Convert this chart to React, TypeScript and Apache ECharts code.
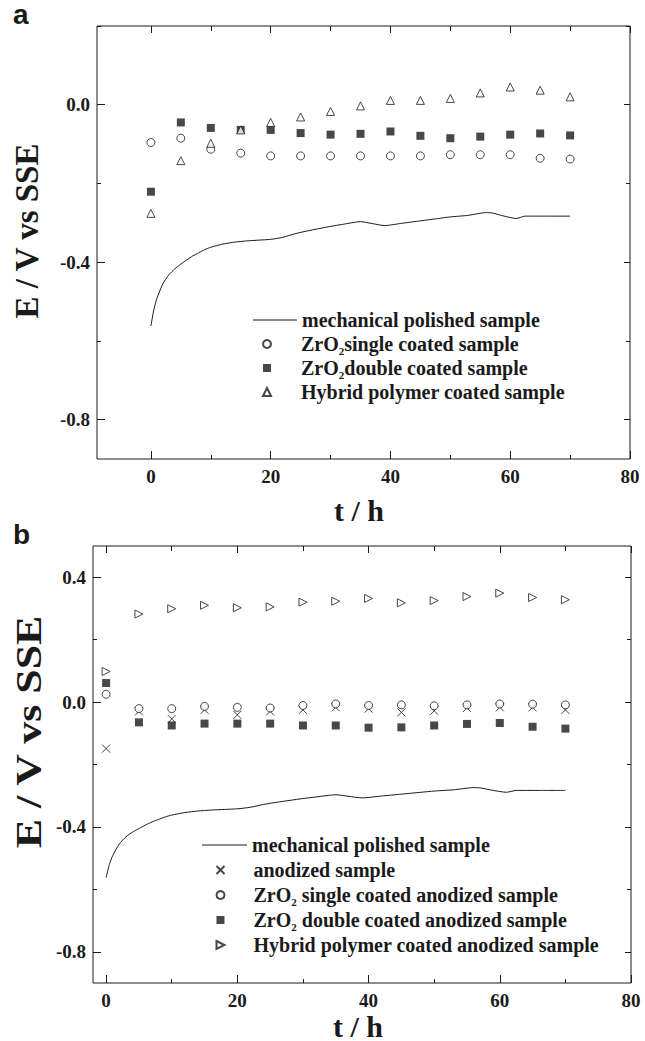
import React, { useEffect, useRef } from "react";
import * as echarts from "echarts";

// ---------- data ----------
const T_POINTS = [0, 5, 10, 15, 20, 25, 30, 35, 40, 45, 50, 55, 60, 65, 70];

// mechanical polished sample (continuous record)
const MECH_T = [0, 0.5, 1, 2, 3, 4, 5, 6, 7, 8, 9, 10, 12, 14, 16, 18, 20, 22, 24, 26, 28, 30, 32, 35, 37, 39, 42, 45, 48, 50, 53, 56, 57, 59, 61, 62.5, 66, 70];
const MECH_E = [-0.562, -0.52, -0.492, -0.455, -0.432, -0.417, -0.405, -0.394, -0.384, -0.376, -0.368, -0.362, -0.354, -0.349, -0.346, -0.344, -0.342, -0.337, -0.328, -0.321, -0.315, -0.309, -0.304, -0.297, -0.302, -0.307, -0.301, -0.295, -0.289, -0.285, -0.281, -0.274, -0.275, -0.283, -0.289, -0.283, -0.283, -0.283];

// panel a
const A_SINGLE = [-0.096, -0.085, -0.113, -0.123, -0.13, -0.13, -0.13, -0.13, -0.13, -0.13, -0.127, -0.127, -0.127, -0.136, -0.138];
const A_DOUBLE = [-0.221, -0.045, -0.059, -0.064, -0.064, -0.072, -0.076, -0.074, -0.068, -0.079, -0.085, -0.081, -0.076, -0.073, -0.078];
const A_HYBRID = [-0.276, -0.142, -0.098, -0.064, -0.045, -0.031, -0.017, -0.003, 0.011, 0.011, 0.016, 0.03, 0.045, 0.037, 0.02];

// panel b
const B_ANODIZED = [-0.149, -0.03, -0.054, -0.025, -0.041, -0.03, -0.025, -0.017, -0.021, -0.033, -0.028, -0.019, -0.017, -0.017, -0.025];
const B_SINGLE = [0.025, -0.021, -0.021, -0.014, -0.017, -0.019, -0.011, -0.006, -0.011, -0.009, -0.012, -0.009, -0.006, -0.007, -0.009];
const B_DOUBLE = [0.061, -0.065, -0.075, -0.069, -0.069, -0.069, -0.075, -0.075, -0.082, -0.081, -0.075, -0.07, -0.067, -0.079, -0.085];
const B_HYBRID = [0.098, 0.282, 0.299, 0.31, 0.302, 0.305, 0.32, 0.323, 0.332, 0.318, 0.325, 0.338, 0.349, 0.335, 0.328];

// ticks
const X_MAJOR = [0, 20, 40, 60, 80];
const X_MINOR = [10, 30, 50, 70];
const YA_MAJOR = [-0.8, -0.4, 0];
const YA_MINOR = [-0.6, -0.2, 0.2];
const YB_MAJOR = [-0.8, -0.4, 0, 0.4];
const YB_MINOR = [-0.6, -0.2, 0.2];

// names
const MECH = "mechanical polished sample";
const MECH_B = "mechanical polished sample ";
const A_NAMES = ["ZrO2single coated sample", "ZrO2double coated sample", "Hybrid polymer coated sample"];
const B_NAMES = ["anodized sample", "ZrO2 single coated anodized sample", "ZrO2 double coated anodized sample", "Hybrid polymer coated anodized sample"];

const INK = "#1a1a1a";
const SERIF = "Liberation Serif";
const SANS = "Liberation Sans";

const zip = (xs: number[], ys: number[]) => xs.map((x, i) => [x, ys[i]]);

function xAxes(grid: number, min: number, max: number) {
  const base = {
    gridIndex: grid, type: "value", min, max,
    splitLine: { show: false },
    axisLine: { show: false, onZero: false },
  };
  const tl = { color: INK, width: 1 };
  return [
    {
      ...base, position: "bottom",
      axisTick: { inside: true, length: 8, customValues: X_MAJOR, lineStyle: tl },
      axisLabel: { customValues: X_MAJOR, color: INK, fontFamily: SERIF, fontWeight: "bold", fontSize: 19, margin: 8 },
    },
    { ...base, position: "bottom", axisTick: { inside: true, length: 4, customValues: X_MINOR, lineStyle: tl }, axisLabel: { show: false } },
    { ...base, position: "top", axisTick: { inside: true, length: 7, customValues: X_MAJOR, lineStyle: tl }, axisLabel: { show: false } },
    { ...base, position: "top", axisTick: { inside: true, length: 5, customValues: X_MINOR, lineStyle: tl }, axisLabel: { show: false } },
  ];
}

function yAxes(grid: number, min: number, max: number, major: number[], minor: number[]) {
  const base = {
    gridIndex: grid, type: "value", min, max,
    splitLine: { show: false },
    axisLine: { show: false, onZero: false },
  };
  const tl = { color: INK, width: 1 };
  return [
    {
      ...base, position: "left",
      axisTick: { inside: true, length: 8, customValues: major, lineStyle: tl },
      axisLabel: {
        customValues: major, color: INK, fontFamily: SERIF, fontWeight: "bold", fontSize: 19, margin: 7,
        formatter: (v: number) => v.toFixed(1),
      },
    },
    { ...base, position: "left", axisTick: { inside: true, length: 4, customValues: minor, lineStyle: tl }, axisLabel: { show: false } },
    { ...base, position: "right", axisTick: { inside: true, length: 6, customValues: major, lineStyle: tl }, axisLabel: { show: false } },
    { ...base, position: "right", axisTick: { inside: true, length: 4, customValues: minor, lineStyle: tl }, axisLabel: { show: false } },
  ];
}

const hollow = { color: "#ffffff", borderColor: INK, borderWidth: 1 };
const filled = { color: INK, borderColor: INK, borderWidth: 0 };
const CROSS = "path://M0,0L10,10M10,0L0,10";
const RIGHT_TRI = "path://M0,0L10,5L0,10Z";

const legendText = {
  color: INK, fontFamily: SERIF, fontWeight: "bold", fontSize: 20, lineHeight: 24,
  rich: {
    sub: { color: INK, fontFamily: SERIF, fontWeight: "bold", fontSize: 11, lineHeight: 11, verticalAlign: "top", padding: [13, 0, 0, 0] },
  },
};
const fmtLegend = (n: string) => n.replace("ZrO2", "ZrO{sub|2}");

export default function App() {
  const ref = useRef<HTMLDivElement>(null);

  useEffect(() => {
    if (!ref.current) return;
    const chart = echarts.init(ref.current, undefined, { renderer: "svg" });

    const scatter = (name: string, grid: number, ys: number[], symbol: string, style: any, size = 8) => ({
      type: "scatter", name,
      xAxisIndex: grid * 4, yAxisIndex: grid * 4,
      data: zip(T_POINTS, ys),
      symbol, symbolSize: size,
      itemStyle: style,
      z: 3,
    });

    const mechLine = (name: string, axis: number) => ({
      type: "line", name, xAxisIndex: axis, yAxisIndex: axis,
      data: zip(MECH_T, MECH_E), showSymbol: false, symbol: "none", smooth: 0.2,
      lineStyle: { color: INK, width: 1 }, itemStyle: { color: INK },
    });

    const option: any = {
      animation: false,
      backgroundColor: "#ffffff",
      grid: [
        { left: 97, right: 15, top: 26, height: 433, show: true, borderColor: INK, borderWidth: 1, backgroundColor: "transparent" },
        { left: 93, right: 14, top: 546, height: 437, show: true, borderColor: INK, borderWidth: 1, backgroundColor: "transparent" },
      ],
      xAxis: [...xAxes(0, -9, 80), ...xAxes(1, -2, 80)],
      yAxis: [...yAxes(0, -0.9, 0.2, YA_MAJOR, YA_MINOR), ...yAxes(1, -0.9, 0.5, YB_MAJOR, YB_MINOR)],
      legend: [
        {
          orient: "vertical", left: 253, top: 308, padding: 0, itemWidth: 44, itemHeight: 1, itemGap: 0,
          data: [{ name: MECH, icon: "rect" }], textStyle: legendText, selectedMode: false,
        },
        {
          orient: "vertical", left: 262, top: 332, padding: 0, itemWidth: 8, itemHeight: 8, itemGap: 0,
          data: A_NAMES, formatter: fmtLegend,
          textStyle: { ...legendText, padding: [0, 0, 0, 25] }, selectedMode: false,
        },
        {
          orient: "vertical", left: 202, top: 833, padding: 0, itemWidth: 45, itemHeight: 1, itemGap: 1,
          data: [{ name: MECH_B, icon: "rect" }], textStyle: legendText, selectedMode: false,
          formatter: (n: string) => n.trim(),
        },
        {
          orient: "vertical", left: 214, top: 858, padding: 0, itemWidth: 8, itemHeight: 8, itemGap: 1,
          data: B_NAMES, formatter: fmtLegend,
          textStyle: { ...legendText, padding: [0, 0, 0, 24] }, selectedMode: false,
        },
      ],
      series: [
        mechLine(MECH, 0),
        scatter(A_NAMES[0], 0, A_SINGLE, "circle", hollow, 8),
        scatter(A_NAMES[1], 0, A_DOUBLE, "rect", filled, 8),
        scatter(A_NAMES[2], 0, A_HYBRID, "triangle", hollow, 8),
        mechLine(MECH_B, 4),
        scatter(B_NAMES[0], 1, B_ANODIZED, CROSS, { color: "none", borderColor: INK, borderWidth: 1 }, 8),
        scatter(B_NAMES[1], 1, B_SINGLE, "circle", hollow, 8),
        scatter(B_NAMES[2], 1, B_DOUBLE, "rect", filled, 8),
        scatter(B_NAMES[3], 1, B_HYBRID, RIGHT_TRI, hollow, 8),
      ],
      graphic: [
        { type: "text", x: 13, y: 28, style: { text: "a", fontFamily: SANS, fontWeight: "bold", fontSize: 28, fill: INK, textVerticalAlign: "bottom" } },
        { type: "text", x: 13, y: 548, style: { text: "b", fontFamily: SANS, fontWeight: "bold", fontSize: 28, fill: INK, textVerticalAlign: "bottom" } },
        {
          type: "text", x: 27, y: 231, rotation: Math.PI / 2,
          style: { text: "E / V vs SSE", fontFamily: SERIF, fontWeight: "bold", fontSize: 33, fill: INK, textAlign: "center", textVerticalAlign: "middle" },
        },
        {
          type: "text", x: 29, y: 732, rotation: Math.PI / 2, scaleX: 1.22,
          style: { text: "E / V vs SSE", fontFamily: SERIF, fontWeight: "bold", fontSize: 36, fill: INK, textAlign: "center", textVerticalAlign: "middle" },
        },
        {
          type: "text", x: 359, y: 510,
          style: { text: "t / h", fontFamily: SERIF, fontWeight: "bold", fontSize: 30, fill: INK, textAlign: "center", textVerticalAlign: "middle" },
        },
        {
          type: "text", x: 358, y: 1026,
          style: { text: "t / h", fontFamily: SERIF, fontWeight: "bold", fontSize: 30, fill: INK, textAlign: "center", textVerticalAlign: "middle" },
        },
      ],
    };

    chart.setOption(option);
    return () => chart.dispose();
  }, []);

  return <div ref={ref} style={{ position: "absolute", left: 0, top: 0, width: 645, height: 1041 }} />;
}
